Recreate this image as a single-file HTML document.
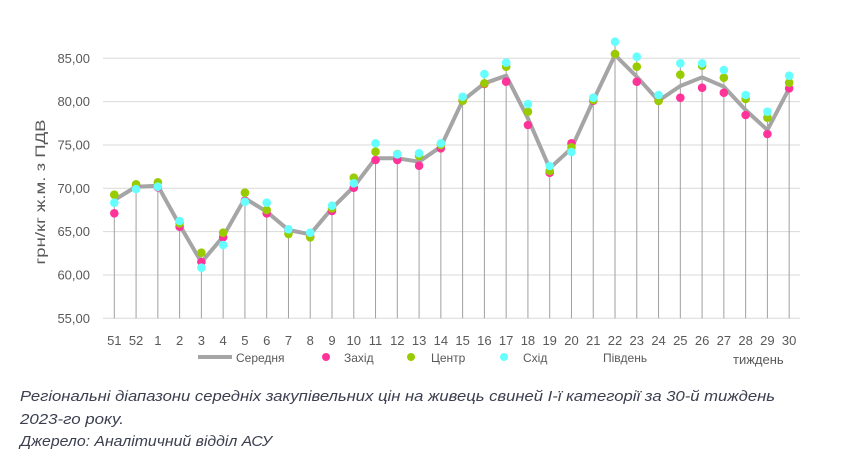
<!DOCTYPE html>
<html><head><meta charset="utf-8"><style>
html,body{margin:0;padding:0;background:#fff;width:847px;height:473px;overflow:hidden}
svg{display:block}
text{font-family:"Liberation Sans","DejaVu Sans",sans-serif}
</style></head><body>
<svg id="s" width="847" height="473" xmlns="http://www.w3.org/2000/svg"></svg>
<script>
var avg=[200,186.7,185.7,225,262.3,236.7,198.3,211.7,230,234.3,208.3,186.7,158.3,158.3,161.7,146.7,100.7,83.3,75.7,118.3,168.3,148.3,100.7,55,76.7,100.7,86,77.3,86.7,110,130,88.3];
var pink=[213.3,186,187.3,226.7,262,237.3,200.7,213.3,230,236.7,211,187.7,160,160,165.7,148.3,100.7,84,81.7,125,172.7,143.3,100.7,54,81.7,100.7,97.7,87.7,92.7,115,134,88.3];
var green=[194.7,184.3,182.3,223.3,252.7,232.7,192.7,210,234,237.3,208.3,177.7,151.7,154,156,145,100.7,83.3,66.7,111.7,171,147.3,100,54,66.7,101,74.7,65.7,77.7,99,117.7,82.7];
var cyan=[202.7,189,186.7,221,267.7,245,201.7,202.7,229.3,232.7,205.7,183.3,143.3,154.3,153.3,143.3,96.7,74,62.7,104,166,152,97.7,41.7,56.7,95,63.3,63.3,70,95,111.7,75.7];
var labs=["51","52"];for(var k=1;k<=30;k++)labs.push(""+k);
function X(i){return 114.3+21.77*i}
var h='';
var ys=["85,00","80,00","75,00","70,00","65,00","60,00","55,00"];
for(var g=0;g<7;g++){var y=58.3+43.33*g;h+='<line x1="103" x2="800" y1="'+y+'" y2="'+y+'" stroke="#d9d9d9" stroke-width="1"/>';
h+='<text x="90" y="'+(y+4.5)+'" text-anchor="end" font-size="13" fill="#595959">'+ys[g]+'</text>';}
h+='<text transform="translate(45,192) rotate(-90)" text-anchor="middle" font-size="14" fill="#595959" textLength="145" lengthAdjust="spacingAndGlyphs">грн/кг ж.м. з ПДВ</text>';
for(var i=0;i<32;i++){var m=Math.min(avg[i],pink[i],green[i],cyan[i]);
h+='<line x1="'+X(i)+'" x2="'+X(i)+'" y1="318.3" y2="'+m+'" stroke="#a0a0a0" stroke-width="1"/>';
h+='<text x="'+X(i)+'" y="345" text-anchor="middle" font-size="13" fill="#595959">'+labs[i]+'</text>';}
var p='';for(var i=0;i<32;i++)p+=(i?'L':'M')+X(i).toFixed(1)+' '+avg[i];
h+='<path d="'+p+'" fill="none" stroke="#a5a5a5" stroke-width="4" stroke-linejoin="round"/>';
function dots(a,c){for(var i=0;i<32;i++)h+='<circle cx="'+X(i)+'" cy="'+a[i]+'" r="4.3" fill="'+c+'"/>';}
dots(pink,"#ff3399");dots(green,"#99cc00");dots(cyan,"#66ffff");
h+='<line x1="198" x2="232" y1="357" y2="357" stroke="#a5a5a5" stroke-width="4"/>';
h+='<text x="236" y="362" font-size="12" fill="#595959">Середня</text>';
h+='<circle cx="326" cy="357" r="4" fill="#ff3399"/><text x="344" y="362" font-size="12" fill="#595959">Захід</text>';
h+='<circle cx="411" cy="357" r="4" fill="#99cc00"/><text x="431" y="362" font-size="12" fill="#595959">Центр</text>';
h+='<circle cx="504" cy="357" r="4" fill="#66ffff"/><text x="523" y="362" font-size="12" fill="#595959">Схід</text>';
h+='<text x="603" y="362" font-size="12" fill="#595959">Південь</text>';
h+='<text x="733" y="364" font-size="13" fill="#595959">тиждень</text>';
var cs='font-size="15" font-style="italic" fill="#3b3f4f" lengthAdjust="spacingAndGlyphs"';
h+='<text x="20" y="401" '+cs+' textLength="755">Регіональні діапазони середніх закупівельних цін на живець свиней І-ї категорії за 30-й тиждень</text>';
h+='<text x="20" y="424" '+cs+' textLength="104">2023-го року.</text>';
h+='<text x="20" y="446" '+cs+' textLength="252">Джерело: Аналітичний відділ АСУ</text>';
document.getElementById('s').innerHTML=h;
</script>
</body></html>
